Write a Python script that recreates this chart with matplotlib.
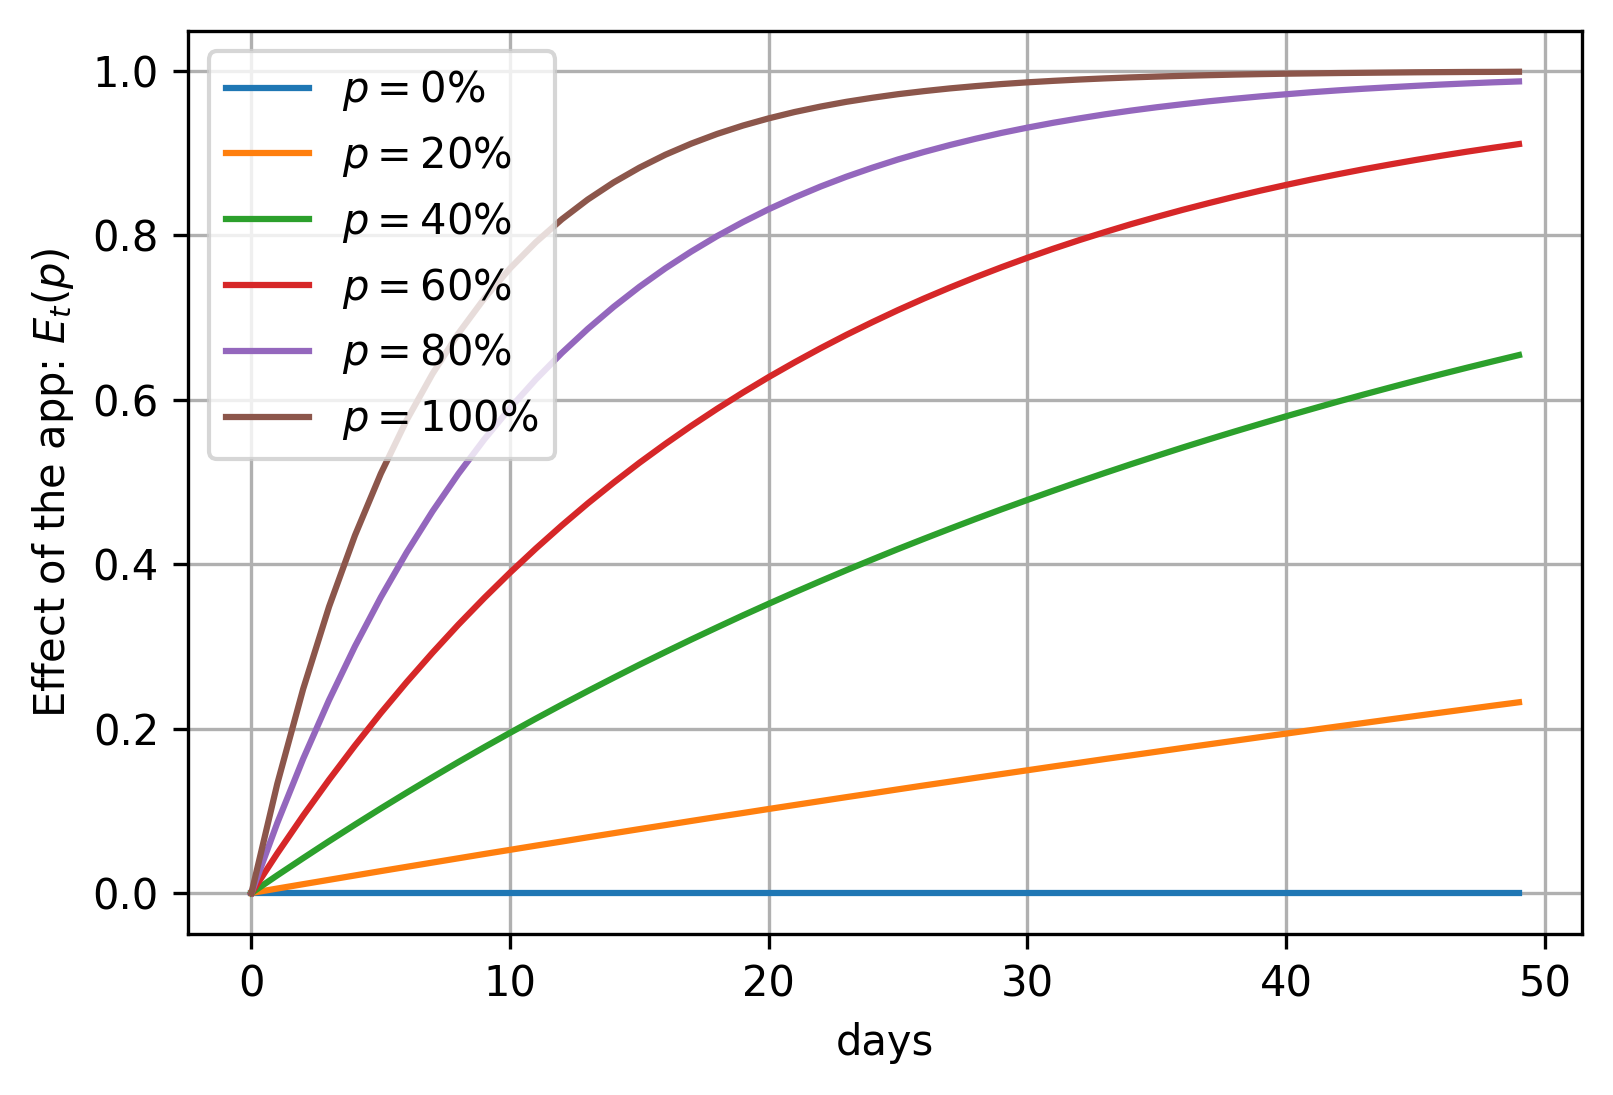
import matplotlib
matplotlib.use("Agg")
import matplotlib.pyplot as plt

days = list(range(50))

# effect values, one per day
effect_p0 = [0.0] * 50
effect_p20 = [0.0000, 0.0054, 0.0107, 0.0160, 0.0213, 0.0266, 0.0318, 0.0370, 0.0422, 0.0474,
              0.0525, 0.0576, 0.0626, 0.0677, 0.0727, 0.0777, 0.0826, 0.0876, 0.0925, 0.0973,
              0.1022, 0.1070, 0.1118, 0.1166, 0.1213, 0.1261, 0.1308, 0.1354, 0.1401, 0.1447,
              0.1493, 0.1539, 0.1584, 0.1630, 0.1674, 0.1719, 0.1764, 0.1808, 0.1852, 0.1896,
              0.1939, 0.1983, 0.2026, 0.2068, 0.2111, 0.2153, 0.2195, 0.2237, 0.2279, 0.2320]
effect_p40 = [0.0000, 0.0215, 0.0424, 0.0630, 0.0831, 0.1028, 0.1220, 0.1408, 0.1593, 0.1773,
              0.1949, 0.2122, 0.2291, 0.2456, 0.2618, 0.2777, 0.2931, 0.3083, 0.3231, 0.3377,
              0.3519, 0.3658, 0.3794, 0.3927, 0.4057, 0.4185, 0.4309, 0.4431, 0.4551, 0.4668,
              0.4782, 0.4894, 0.5004, 0.5111, 0.5216, 0.5318, 0.5419, 0.5517, 0.5613, 0.5707,
              0.5799, 0.5889, 0.5978, 0.6064, 0.6148, 0.6231, 0.6312, 0.6391, 0.6468, 0.6544]
effect_p60 = [0.0000, 0.0482, 0.0941, 0.1377, 0.1793, 0.2189, 0.2565, 0.2923, 0.3265, 0.3589,
              0.3898, 0.4192, 0.4472, 0.4739, 0.4992, 0.5234, 0.5463, 0.5682, 0.5890, 0.6088,
              0.6277, 0.6456, 0.6627, 0.6790, 0.6944, 0.7092, 0.7232, 0.7365, 0.7492, 0.7613,
              0.7728, 0.7838, 0.7942, 0.8041, 0.8136, 0.8225, 0.8311, 0.8392, 0.8470, 0.8544,
              0.8614, 0.8681, 0.8744, 0.8805, 0.8862, 0.8917, 0.8969, 0.9019, 0.9066, 0.9111]
effect_p80 = [0.0000, 0.0853, 0.1633, 0.2347, 0.3000, 0.3597, 0.4143, 0.4643, 0.5100, 0.5518,
              0.5900, 0.6250, 0.6570, 0.6862, 0.7130, 0.7375, 0.7599, 0.7803, 0.7991, 0.8162,
              0.8319, 0.8462, 0.8594, 0.8714, 0.8823, 0.8924, 0.9015, 0.9099, 0.9176, 0.9247,
              0.9311, 0.9370, 0.9423, 0.9473, 0.9518, 0.9559, 0.9596, 0.9631, 0.9662, 0.9691,
              0.9717, 0.9742, 0.9764, 0.9784, 0.9802, 0.9819, 0.9835, 0.9849, 0.9862, 0.9873]
effect_p100 = [0.0000, 0.1330, 0.2483, 0.3483, 0.4349, 0.5101, 0.5752, 0.6317, 0.6807, 0.7232,
               0.7600, 0.7919, 0.8196, 0.8436, 0.8644, 0.8824, 0.8981, 0.9116, 0.9234, 0.9336,
               0.9424, 0.9501, 0.9567, 0.9625, 0.9674, 0.9718, 0.9755, 0.9788, 0.9816, 0.9841,
               0.9862, 0.9880, 0.9896, 0.9910, 0.9922, 0.9932, 0.9941, 0.9949, 0.9956, 0.9962,
               0.9967, 0.9971, 0.9975, 0.9978, 0.9981, 0.9984, 0.9986, 0.9988, 0.9989, 0.9991]

series = [effect_p0, effect_p20, effect_p40, effect_p60, effect_p80, effect_p100]
labels = [r"$p = 0\%$", r"$p = 20\%$", r"$p = 40\%$",
          r"$p = 60\%$", r"$p = 80\%$", r"$p = 100\%$"]

fig = plt.figure(figsize=(1613 / 300, 1095 / 300), dpi=300)
ax = fig.add_axes([0.1166, 0.147, 0.8644, 0.825])

for values, label in zip(series, labels):
    ax.plot(days, values, label=label)

ax.set_xlabel("days")
ax.set_ylabel(r"Effect of the app: $E_t(p)$")
ax.grid(True)
ax.legend(loc="upper left")

fig.savefig("out.png", dpi=300)
